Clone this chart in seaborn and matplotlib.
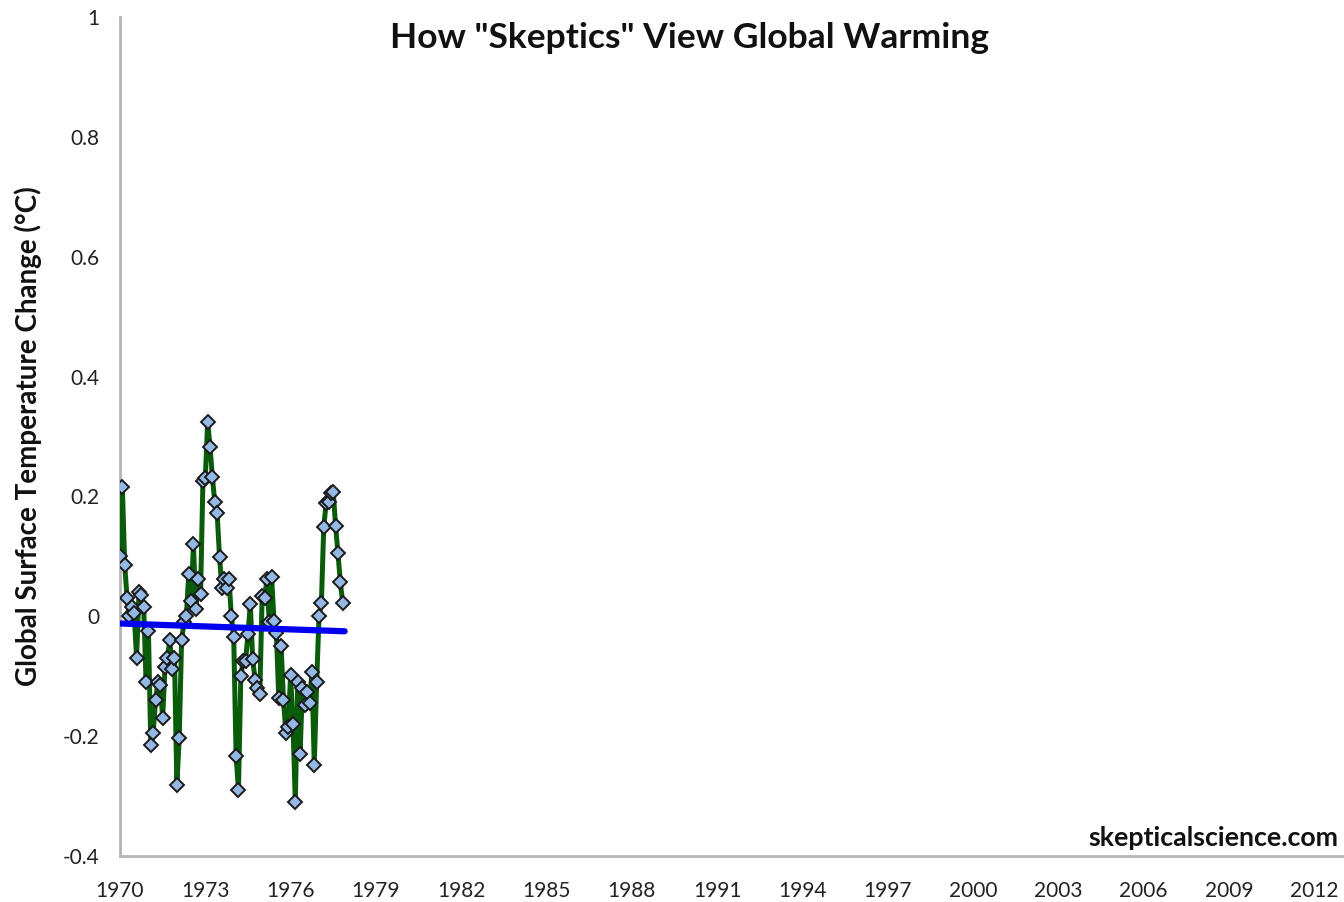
import numpy as np
import pandas as pd
import matplotlib
matplotlib.use("Agg")
import matplotlib.pyplot as plt
import seaborn as sns

# Monthly anomalies 1970-1977
temp_anomaly = [
    0.10, 0.215, 0.085, 0.03, 0.00, 0.015, 0.005, -0.07, 0.04, 0.035,
    0.015, -0.11, -0.025, -0.215, -0.195, -0.14, -0.11, -0.115, -0.17, -0.085,
    -0.07, -0.04, -0.088, -0.07, -0.282, -0.203, -0.04, -0.01, 0.00, 0.07,
    0.026, 0.12, 0.012, 0.062, 0.038, 0.225, 0.23, 0.325, 0.283, 0.232,
    0.19, 0.172, 0.099, 0.047, 0.062, 0.047, 0.062, 0.00, -0.035, -0.233,
    -0.29, -0.10, -0.074, -0.074, -0.03, 0.02, -0.072, -0.106, -0.12, -0.13,
    0.034, 0.03, 0.062, -0.01, 0.065, -0.008, -0.028, -0.136, -0.05, -0.14,
    -0.195, -0.185, -0.098, -0.18, -0.31, -0.11, -0.23, -0.12, -0.148, -0.126,
    -0.145, -0.093, -0.248, -0.11, 0.00, 0.022, 0.149, 0.189, 0.19, 0.205,
    0.208, 0.15, 0.105, 0.057, 0.022,
]
years = [1970 + i / 12 for i in range(len(temp_anomaly))]

# Linear trend as drawn (endpoints)
trend_years = [1970.0, 1977.9]
trend_values = [-0.012, -0.025]

xtick_years = list(range(1970, 2013, 3))
ytick_values = [-0.4, -0.2, 0, 0.2, 0.4, 0.6, 0.8, 1]
ytick_labels = ["-0.4", "-0.2", "0", "0.2", "0.4", "0.6", "0.8", "1"]


def main():
    sns.set_theme(style="white")
    plt.rcParams["font.family"] = ["Lato", "DejaVu Sans"]

    df = pd.DataFrame({"year": years, "anomaly": temp_anomaly})
    trend = pd.DataFrame({"year": trend_years, "anomaly": trend_values})

    fig = plt.figure(figsize=(13.44, 9.02), dpi=100)
    ax = fig.add_axes([120 / 1344, 46 / 902, 1224 / 1344, 839 / 902])

    sns.lineplot(data=df, x="year", y="anomaly", ax=ax, color="#0a5c0a",
                 linewidth=3.6, marker="D", markersize=7.5,
                 markerfacecolor="#94b8e4", markeredgecolor="#1a1a1a",
                 markeredgewidth=1.4, zorder=3)
    sns.lineplot(data=trend, x="year", y="anomaly", ax=ax, color="#0000ee",
                 linewidth=4.5, zorder=4)

    ax.set_xlim(1970, 2013.05)
    ax.set_ylim(-0.4, 1)
    ax.set_xticks(xtick_years)
    ax.set_xticklabels([str(y) for y in xtick_years])
    ax.set_yticks(ytick_values)
    ax.set_yticklabels(ytick_labels)

    for side in ["top", "right"]:
        ax.spines[side].set_visible(False)
    for side in ["left", "bottom"]:
        ax.spines[side].set_color("#b5b5b5")
        ax.spines[side].set_linewidth(2)
    ax.tick_params(axis="both", direction="out", length=6, width=2,
                   color="#b5b5b5", labelsize=15, labelcolor="#222222")
    ax.tick_params(axis="x", pad=12)
    ax.tick_params(axis="y", pad=9)

    ax.set_xlabel("")
    ax.set_ylabel("Global Surface Temperature Change (\u00b0C)", fontsize=20,
                  fontweight="bold", color="#111111")
    ax.yaxis.set_label_coords(-0.064, 0.5)

    fig.text(690 / 1344, 1 - 38 / 902, 'How "Skeptics" View Global Warming',
             ha="center", va="center", fontsize=25.5, fontweight="bold",
             color="#111111")
    fig.text(1338 / 1344, 1 - 838 / 902, "skepticalscience.com",
             ha="right", va="center", fontsize=19.3, fontweight="bold",
             color="#111111")

    fig.savefig("out.png", dpi=100, facecolor="white")
    plt.close(fig)


if __name__ == "__main__":
    main()
